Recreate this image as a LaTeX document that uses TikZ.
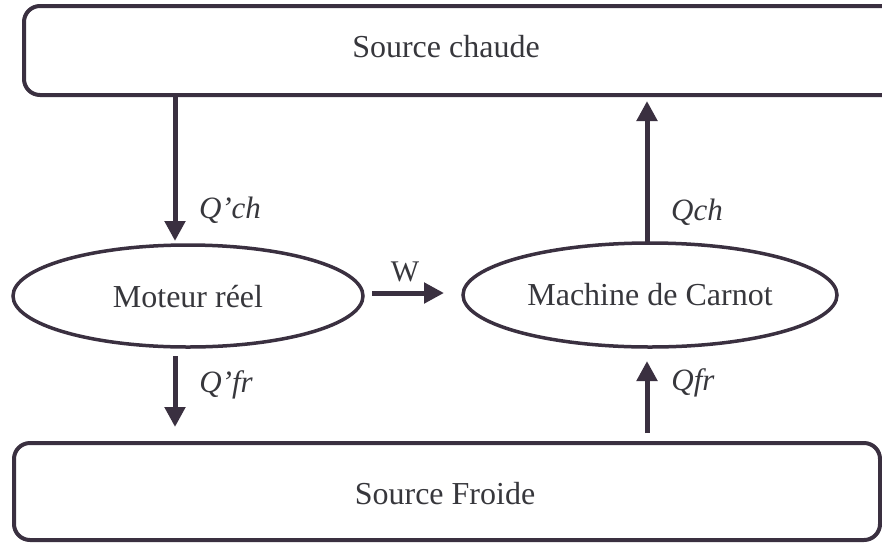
\documentclass[tikz,border=0pt]{standalone}
\usepackage{fontspec}
\setmainfont{Liberation Serif}
\usetikzlibrary{arrows.meta,shapes.geometric}
\definecolor{ink}{RGB}{58,48,64}
\definecolor{txt}{RGB}{55,55,60}
\begin{document}
\begin{tikzpicture}[x=1pt,y=-1pt,
  box/.style={draw=ink,line width=4pt,rounded corners=16pt,inner sep=0pt},
  ell/.style={draw=ink,line width=3.5pt,ellipse,inner sep=0pt},
  lbl/.style={text=txt,font=\fontsize{32}{36}\selectfont,inner sep=0pt},
  qlbl/.style={text=txt,font=\fontsize{31}{36}\selectfont\itshape,inner sep=0pt},
  flow/.style={draw=ink,line width=5pt,-{Triangle[length=20pt,width=20pt]}}]
\useasboundingbox (0,0) rectangle (882,544);
\clip (0,0) rectangle (882,544);
% boxes
\node[box,minimum width=876pt,minimum height=89pt] (hot) at (462,50.5) {};
\node[lbl] (hott) at (446,47) {Source chaude};
\node[box,minimum width=866pt,minimum height=97pt] (cold) at (447,491.5) {};
\node[lbl] (coldt) at (445,494) {Source Froide};
% ellipses
\node[ell,minimum width=350pt,minimum height=102pt] (mot) at (188,296) {};
\node[lbl] (mott) at (188,297) {Moteur réel};
\node[ell,minimum width=374pt,minimum height=104pt] (car) at (650,295) {};
\node[lbl] (cart) at (650,295) {Machine de Carnot};
% connector end points
\coordinate (a1) at (175,94);
\coordinate (a2) at (175,241);
\coordinate (b1) at (647,243);
\coordinate (b2) at (647,101);
\coordinate (c1) at (175,356);
\coordinate (c2) at (175,427);
\coordinate (d1) at (647,433);
\coordinate (d2) at (647,361);
\coordinate (w1) at (372,293);
\coordinate (w2) at (444,293);
\draw[flow] (a1) -- (a2);
\draw[flow] (b1) -- (b2);
\draw[flow] (c1) -- (c2);
\draw[flow] (d1) -- (d2);
\draw[flow] (w1) -- (w2);
% labels
\node[qlbl] (qch1) at (230,210) {Q'ch};
\node[qlbl] (qch2) at (697,212) {Qch};
\node[qlbl] (qfr1) at (226,385) {Q'fr};
\node[qlbl] (qfr2) at (693,383) {Qfr};
\node[lbl,font=\fontsize{30}{34}\selectfont] (w) at (405,272) {W};
\end{tikzpicture}
\end{document}
